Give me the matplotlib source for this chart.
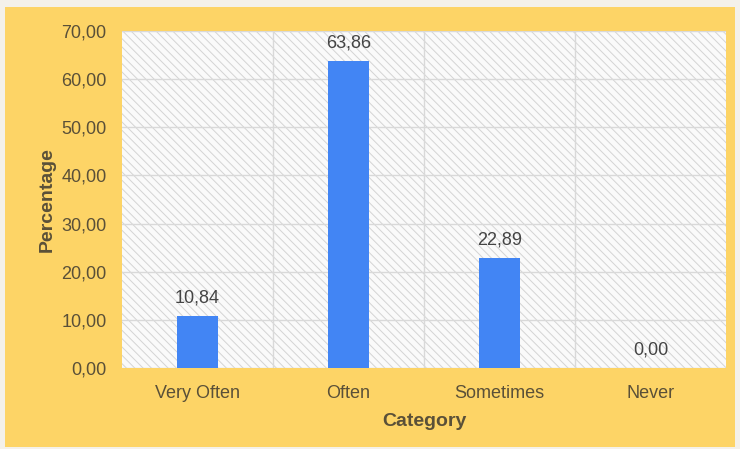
import matplotlib
matplotlib.use("Agg")
import matplotlib.pyplot as plt
from matplotlib.patches import Rectangle
from matplotlib.ticker import FixedLocator, FuncFormatter

categories = ["Very Often", "Often", "Sometimes", "Never"]
values = [10.84, 63.86, 22.89, 0.00]
yticks = [0, 10, 20, 30, 40, 50, 60, 70]

plt.rcParams['font.family'] = ['Liberation Sans', 'DejaVu Sans']
plt.rcParams['hatch.linewidth'] = 0.7
plt.rcParams['hatch.color'] = '#d4d4d4'

fig = plt.figure(figsize=(7.4, 4.49), dpi=100)
fig.patch.set_facecolor('#f4f1ea')
fig.add_artist(Rectangle((5/740, 2/449), 730/740, 440/449, transform=fig.transFigure,
                         facecolor='#fdd466', edgecolor='none', zorder=-10))

ax = fig.add_axes([122/740, 1 - 368/449, 604/740, 337/449])
ax.set_zorder(1)
ax.set_facecolor('#ffffff')
bg = Rectangle((0, 0), 1, 1, transform=ax.transAxes, facecolor='#fafafa',
               edgecolor='#d4d4d4', hatch='\\\\\\\\', linewidth=0, zorder=0)
ax.add_patch(bg)

x = list(range(len(categories)))
ax.bar(x, values, width=0.265, color='#4285f4', zorder=3)
for xi, v in zip(x, values):
    ax.text(xi, v + 1.9, f"{v:.2f}".replace('.', ','), ha='center', va='bottom',
            fontsize=13, color='#444444', zorder=4)

ax.set_xlim(-0.5, len(categories) - 0.5)
ax.set_ylim(0, 70)
ax.set_yticks(yticks)
ax.yaxis.set_major_formatter(FuncFormatter(lambda v, p: f"{v:.2f}".replace('.', ',')))
ax.set_xticks(x)
ax.set_xticklabels(categories)
ax.xaxis.set_minor_locator(FixedLocator([0.5, 1.5, 2.5]))
ax.grid(axis='y', which='major', color='#d9d9d9', linewidth=1, zorder=1)
ax.grid(axis='x', which='minor', color='#d9d9d9', linewidth=1, zorder=1)
ax.grid(axis='x', which='major', visible=False)
ax.tick_params(which='both', length=0)
ax.tick_params(axis='y', labelsize=13, labelcolor='#5a5038', pad=11)
ax.tick_params(axis='x', labelsize=13, labelcolor='#5a5038', pad=12)
for s in ax.spines.values():
    s.set_visible(False)
ax.set_axisbelow(True)

ax.set_ylabel('Percentage', fontsize=14, fontweight='bold', color='#5a5038', labelpad=4)
ax.set_xlabel('Category', fontsize=14, fontweight='bold', color='#5a5038', labelpad=8)

fig.savefig('out.png', dpi=100, facecolor=fig.get_facecolor())
